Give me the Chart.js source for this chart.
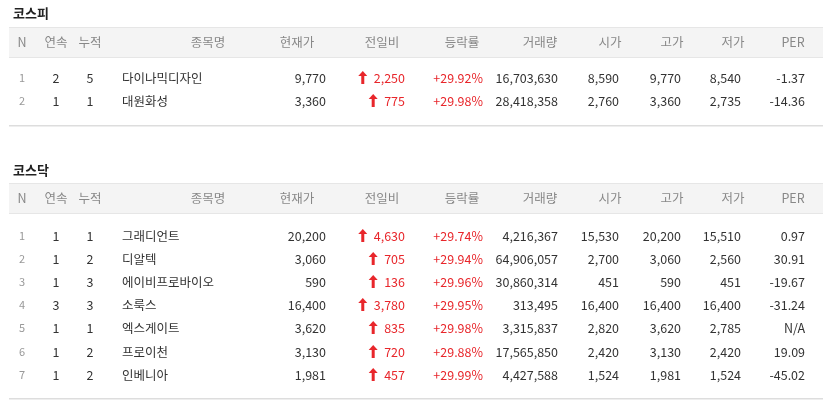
<!DOCTYPE html>
<html><head><meta charset="utf-8">
<script src="https://cdn.jsdelivr.net/npm/chart.js@4/dist/chart.umd.min.js"></script>
<style>html,body{margin:0;padding:0;background:#fff}#c{display:block}</style>
</head><body>
<div style="width:830px;height:409px"><canvas id="c"></canvas></div>
<script>
const headers = ['N','연속','누적','종목명','현재가','전일비','등락률','거래량','시가','고가','저가','PER'];
const kospiNames = ['다이나믹디자인','대원화성'];
const kospiN = [1,2];
const kospiStreak = [2,1];
const kospiCum = [5,1];
const kospiPrice = ['9,770','3,360'];
const kospiChange = ['2,250','775'];
const kospiRate = ['+29.92%','+29.98%'];
const kospiVolume = ['16,703,630','28,418,358'];
const kospiOpen = ['8,590','2,760'];
const kospiHigh = ['9,770','3,360'];
const kospiLow = ['8,540','2,735'];
const kospiPER = ['-1.37','-14.36'];

const kosdaqNames = ['그래디언트','디알텍','에이비프로바이오','소룩스','엑스게이트','프로이천','인베니아'];
const kosdaqN = [1,2,3,4,5,6,7];
const kosdaqStreak = [1,1,1,3,1,1,1];
const kosdaqCum = [1,2,3,3,1,2,2];
const kosdaqPrice = ['20,200','3,060','590','16,400','3,620','3,130','1,981'];
const kosdaqChange = ['4,630','705','136','3,780','835','720','457'];
const kosdaqRate = ['+29.74%','+29.94%','+29.96%','+29.95%','+29.98%','+29.88%','+29.99%'];
const kosdaqVolume = ['4,216,367','64,906,057','30,860,314','313,495','3,315,837','17,565,850','4,427,588'];
const kosdaqOpen = ['15,530','2,700','451','16,400','2,820','2,420','1,524'];
const kosdaqHigh = ['20,200','3,060','590','16,400','3,620','3,130','1,981'];
const kosdaqLow = ['15,510','2,560','451','16,400','2,785','2,420','1,524'];
const kosdaqPER = ['0.97','30.91','-19.67','-31.24','N/A','19.09','-45.02'];

const FONT = '"Noto Sans CJK KR","Noto Sans",sans-serif';
// column layout: [align, x]
const hdrX = [22,56,90,208,297,382,462,540,610,672,733,793];
const colPos = [['center',22],['center',56],['center',90],['left',122],['right',326],['right',405],['right',483],['right',558],['right',619],['right',681],['right',741],['right',805]];

function section(ctx, xs, ys, title, titleY, top, rowsY, bottomY, cols) {
  const X = v => xs.getPixelForValue(v), Y = v => ys.getPixelForValue(v);
  ctx.fillStyle = '#222'; ctx.font = 'bold 13px ' + FONT; ctx.textAlign='left'; ctx.textBaseline='middle';
  ctx.fillText(title, X(13), Y(titleY));
  ctx.fillStyle = '#f4f4f4'; ctx.fillRect(X(9), Y(top), X(823)-X(9), Y(top+30)-Y(top));
  ctx.fillStyle = '#e6e6e6'; ctx.fillRect(X(9), Y(top), X(823)-X(9), 1); ctx.fillRect(X(9), Y(top+30), X(823)-X(9), 1);
  ctx.fillStyle = '#ddd'; ctx.fillRect(X(9), Y(bottomY), X(823)-X(9), 1.5);
  ctx.font = '12.5px ' + FONT; ctx.fillStyle = '#888'; ctx.textAlign='center';
  headers.forEach((h,i)=>ctx.fillText(h, X(hdrX[i]), Y(top+15)));
  rowsY.forEach((ry,r)=>{
    cols.forEach((arr,c)=>{
      const [al,x] = colPos[c];
      ctx.textAlign = al;
      ctx.font = (c===0 ? '11px ' : '12.5px ') + FONT;
      ctx.fillStyle = c===0 ? '#999' : (c===5||c===6) ? '#e8262b' : '#333';
      ctx.fillText(String(arr[r]), X(x), Y(ry));
      if (c===5) {
        const w = ctx.measureText(String(arr[r])).width;
        const ax = X(x) - w - 11, ay = Y(ry);
        ctx.fillStyle = '#e8262b';
        ctx.beginPath(); ctx.moveTo(ax, ay-7); ctx.lineTo(ax+4.5, ay-2); ctx.lineTo(ax-4.5, ay-2); ctx.closePath(); ctx.fill();
        ctx.fillRect(ax-1.5, ay-3, 3, 9);
      }
    });
  });
}

const tablePlugin = {
  id:'table',
  afterDraw(chart){
    const ctx = chart.ctx, xs = chart.scales.x, ys = chart.scales.y;
    ctx.save();
    section(ctx, xs, ys, '코스피', 13, 27, [78,101], 125,
      [kospiN,kospiStreak,kospiCum,kospiNames,kospiPrice,kospiChange,kospiRate,kospiVolume,kospiOpen,kospiHigh,kospiLow,kospiPER]);
    section(ctx, xs, ys, '코스닥', 170, 183, [236,259,282,305,328,352,375], 398,
      [kosdaqN,kosdaqStreak,kosdaqCum,kosdaqNames,kosdaqPrice,kosdaqChange,kosdaqRate,kosdaqVolume,kosdaqOpen,kosdaqHigh,kosdaqLow,kosdaqPER]);
    ctx.restore();
  }
};

new Chart(document.getElementById('c'), {
  type:'scatter',
  data:{datasets:[{data:[]}]},
  options:{
    responsive:true, maintainAspectRatio:false, animation:false,
    layout:{padding:0},
    plugins:{legend:{display:false},tooltip:{enabled:false}},
    scales:{
      x:{type:'linear',min:0,max:830,display:false},
      y:{type:'linear',min:0,max:409,reverse:true,display:false}
    }
  },
  plugins:[tablePlugin]
});
</script>
</body></html>
